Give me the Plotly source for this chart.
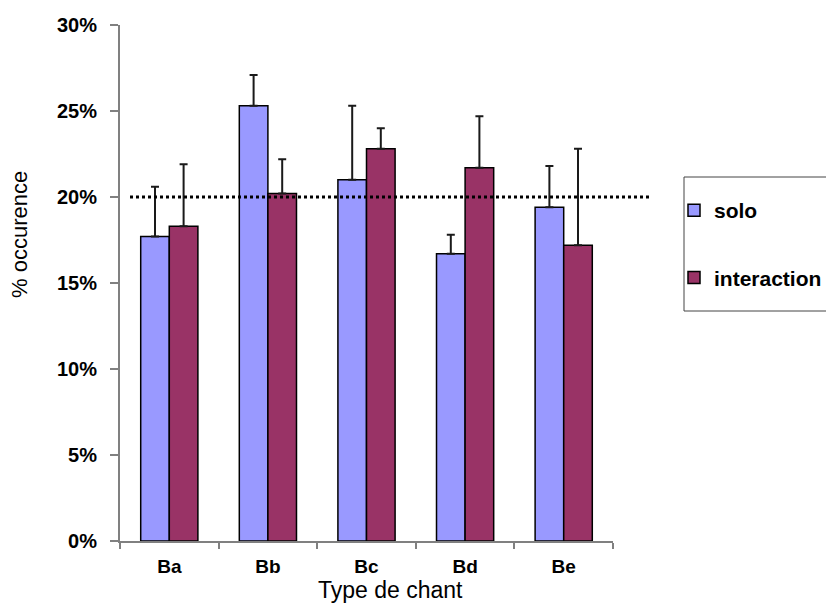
import plotly.graph_objects as go

categories = ["Ba", "Bb", "Bc", "Bd", "Be"]
solo = [0.177, 0.253, 0.210, 0.167, 0.194]
solo_err = [0.029, 0.018, 0.043, 0.011, 0.024]
interaction = [0.183, 0.202, 0.228, 0.217, 0.172]
interaction_err = [0.036, 0.020, 0.012, 0.030, 0.056]
reference_level = 0.20
y_ticks = [0, 0.05, 0.10, 0.15, 0.20, 0.25, 0.30]

FONT = "Liberation Sans, Arial, sans-serif"

fig = go.Figure()
fig.add_trace(go.Bar(
    name="solo", x=categories, y=solo, legendgroup="a",
    marker=dict(color="#9999FF", line=dict(color="black", width=1.5)),
    error_y=dict(type="data", array=solo_err, arrayminus=[0] * len(solo_err),
                 symmetric=False, color="#1a1a1a", thickness=2, width=4),
))
fig.add_trace(go.Bar(
    name="interaction", x=categories, y=interaction, legendgroup="b",
    marker=dict(color="#993366", line=dict(color="black", width=1.5)),
    error_y=dict(type="data", array=interaction_err, arrayminus=[0] * len(interaction_err),
                 symmetric=False, color="#1a1a1a", thickness=2, width=4),
))

OFF = 8  # default page body margin
PAGE_W, PAGE_H = 834, 612
W, H = PAGE_W - 2 * OFF, PAGE_H - 2 * OFF
# target page-pixel plot area: x 120..613, y 25..541
PX0, PX1, PY0, PY1 = 120, 613, 25, 541
L = PX0 - OFF
T = PY0 - OFF
R = W - (PX1 - OFF)
B = H - (PY1 - OFF)
pw = PX1 - PX0
ph = PY1 - PY0

def px_x(x):
    return (x - PX0) / pw

def px_y(y):
    return (PY1 - y) / ph

# dotted reference line at 20%
fig.add_shape(type="line", xref="paper", yref="y",
              x0=px_x(130), x1=px_x(651), y0=reference_level, y1=reference_level,
              line=dict(color="black", width=3, dash="3px,3px"))

# legend frame
fig.add_shape(type="rect", xref="paper", yref="paper",
              x0=px_x(684), x1=px_x(850), y0=px_y(177), y1=px_y(311),
              line=dict(color="#444444", width=1), fillcolor="rgba(0,0,0,0)")

fig.add_annotation(text="% occurence", xref="paper", yref="paper",
                   x=px_x(20), y=px_y(235), textangle=-90, showarrow=False,
                   xanchor="center", yanchor="middle",
                   font=dict(family=FONT, size=22, color="black"))
fig.add_annotation(text="Type de chant", xref="paper", yref="paper",
                   x=px_x(390), y=px_y(605), showarrow=False,
                   xanchor="center", yanchor="bottom",
                   font=dict(family=FONT, size=23, color="black"))

fig.update_layout(
    width=W, height=H,
    margin=dict(l=L, r=R, t=T, b=B, autoexpand=False),
    paper_bgcolor="white", plot_bgcolor="white",
    barmode="group", bargap=0.42, bargroupgap=0,
    font=dict(family=FONT, color="black"),
    legend=dict(x=px_x(674), y=px_y(190), xanchor="left", yanchor="top",
                bgcolor="rgba(0,0,0,0)", borderwidth=0,
                tracegroupgap=37, traceorder="grouped",
                font=dict(family=FONT, size=21, color="black", weight="bold")),
    xaxis=dict(showline=True, linecolor="#808080", linewidth=2, automargin=False,
               ticks="outside", tickson="boundaries", ticklen=6, tickcolor="#808080",
               tickwidth=1.5, ticklabelstandoff=7,
               tickfont=dict(family=FONT, size=19, color="black", weight="bold"),
               showgrid=False, zeroline=False),
    yaxis=dict(range=[0, 0.30], tickvals=y_ticks, tickformat=".0%", automargin=False,
               showline=True, linecolor="#808080", linewidth=2,
               ticks="outside", ticklen=8, tickcolor="#808080", tickwidth=1.5,
               ticklabelstandoff=9,
               tickfont=dict(family=FONT, size=20, color="black", weight="bold"),
               showgrid=False, zeroline=False),
)

fig.write_html("out.html")
